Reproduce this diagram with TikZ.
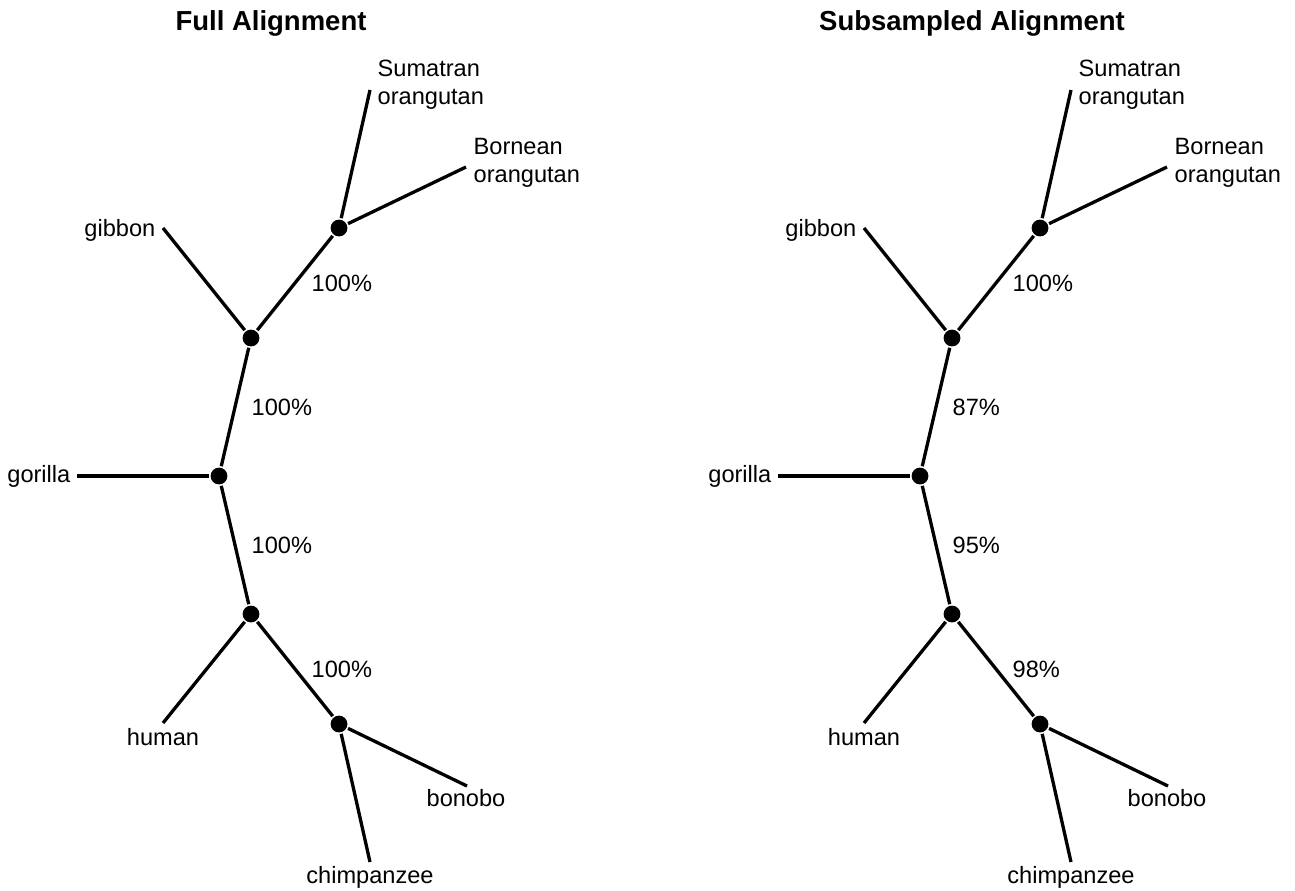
\documentclass[tikz,border=0pt]{standalone}
\usepackage{fontspec}
\setmainfont{Liberation Sans}
\usepackage{tikz}

\begin{document}
\begin{tikzpicture}[x=0.5pt,y=-0.5pt,line width=1.65pt]
	\tikzstyle{hei}=[circle,fill,inner sep=0pt,minimum size=8.4pt];
	\tikzstyle{leaf}=[inner sep=0pt,font=\fontsize{11.8}{14}\selectfont];
	\tikzstyle{pct}=[inner sep=0pt,anchor=west,xshift=7.5pt,font=\fontsize{11.8}{14}\selectfont];
	\tikzstyle{heading}=[inner sep=0pt,font=\fontsize{13.75}{16}\selectfont\bfseries];
	\useasboundingbox (0,0) rectangle (1295,890);
	\foreach \t/\dx/\name/\pa/\pb/\pc/\pd in {l/0/Full Alignment/100/100/100/100,r/701/Subsampled Alignment/100/87/95/98}{
	\begin{scope}[shift={(\dx,0)}]
		\node[heading] (\t title) at (271,23) {\name};
		% inner nodes
		\node[hei] (\t1) at (339,228) {};
		\node[hei] (\t2) at (251,338) {};
		\node[hei] (\t3) at (219,476) {};
		\node[hei] (\t4) at (251,614) {};
		\node[hei] (\t5) at (339,724) {};
		% leaves
		\coordinate (\t sum) at (370,90);
		\coordinate (\t bor) at (466,167);
		\coordinate (\t gib) at (163,228);
		\coordinate (\t gor) at (77,476);
		\coordinate (\t hum) at (163,723);
		\coordinate (\t bon) at (467,786);
		\coordinate (\t chi) at (370,862);
		\node[leaf,anchor=west,align=left] at (376,85) {Sumatran\\orangutan};
		\node[leaf,anchor=west,align=left] at (472,163) {Bornean\\orangutan};
		\node[leaf,anchor=east] at (157,230) {gibbon};
		\node[leaf,anchor=east] at (72,476) {gorilla};
		\node[leaf,anchor=north] at (163,727) {human};
		\node[leaf,anchor=north] at (466,788) {bonobo};
		\node[leaf,anchor=north] at (370,865) {chimpanzee};
		% branches
		\draw (\t1) -- node[pct]{\pa\%} (\t2);
		\draw (\t2) -- node[pct]{\pb\%} (\t3);
		\draw (\t3) -- node[pct]{\pc\%} (\t4);
		\draw (\t4) -- node[pct]{\pd\%} (\t5);
		\draw (\t1) -- (\t sum);
		\draw (\t1) -- (\t bor);
		\draw (\t2) -- (\t gib);
		\draw (\t3) -- (\t gor);
		\draw (\t4) -- (\t hum);
		\draw (\t5) -- (\t bon);
		\draw (\t5) -- (\t chi);
	\end{scope}}
\end{tikzpicture}
\end{document}
